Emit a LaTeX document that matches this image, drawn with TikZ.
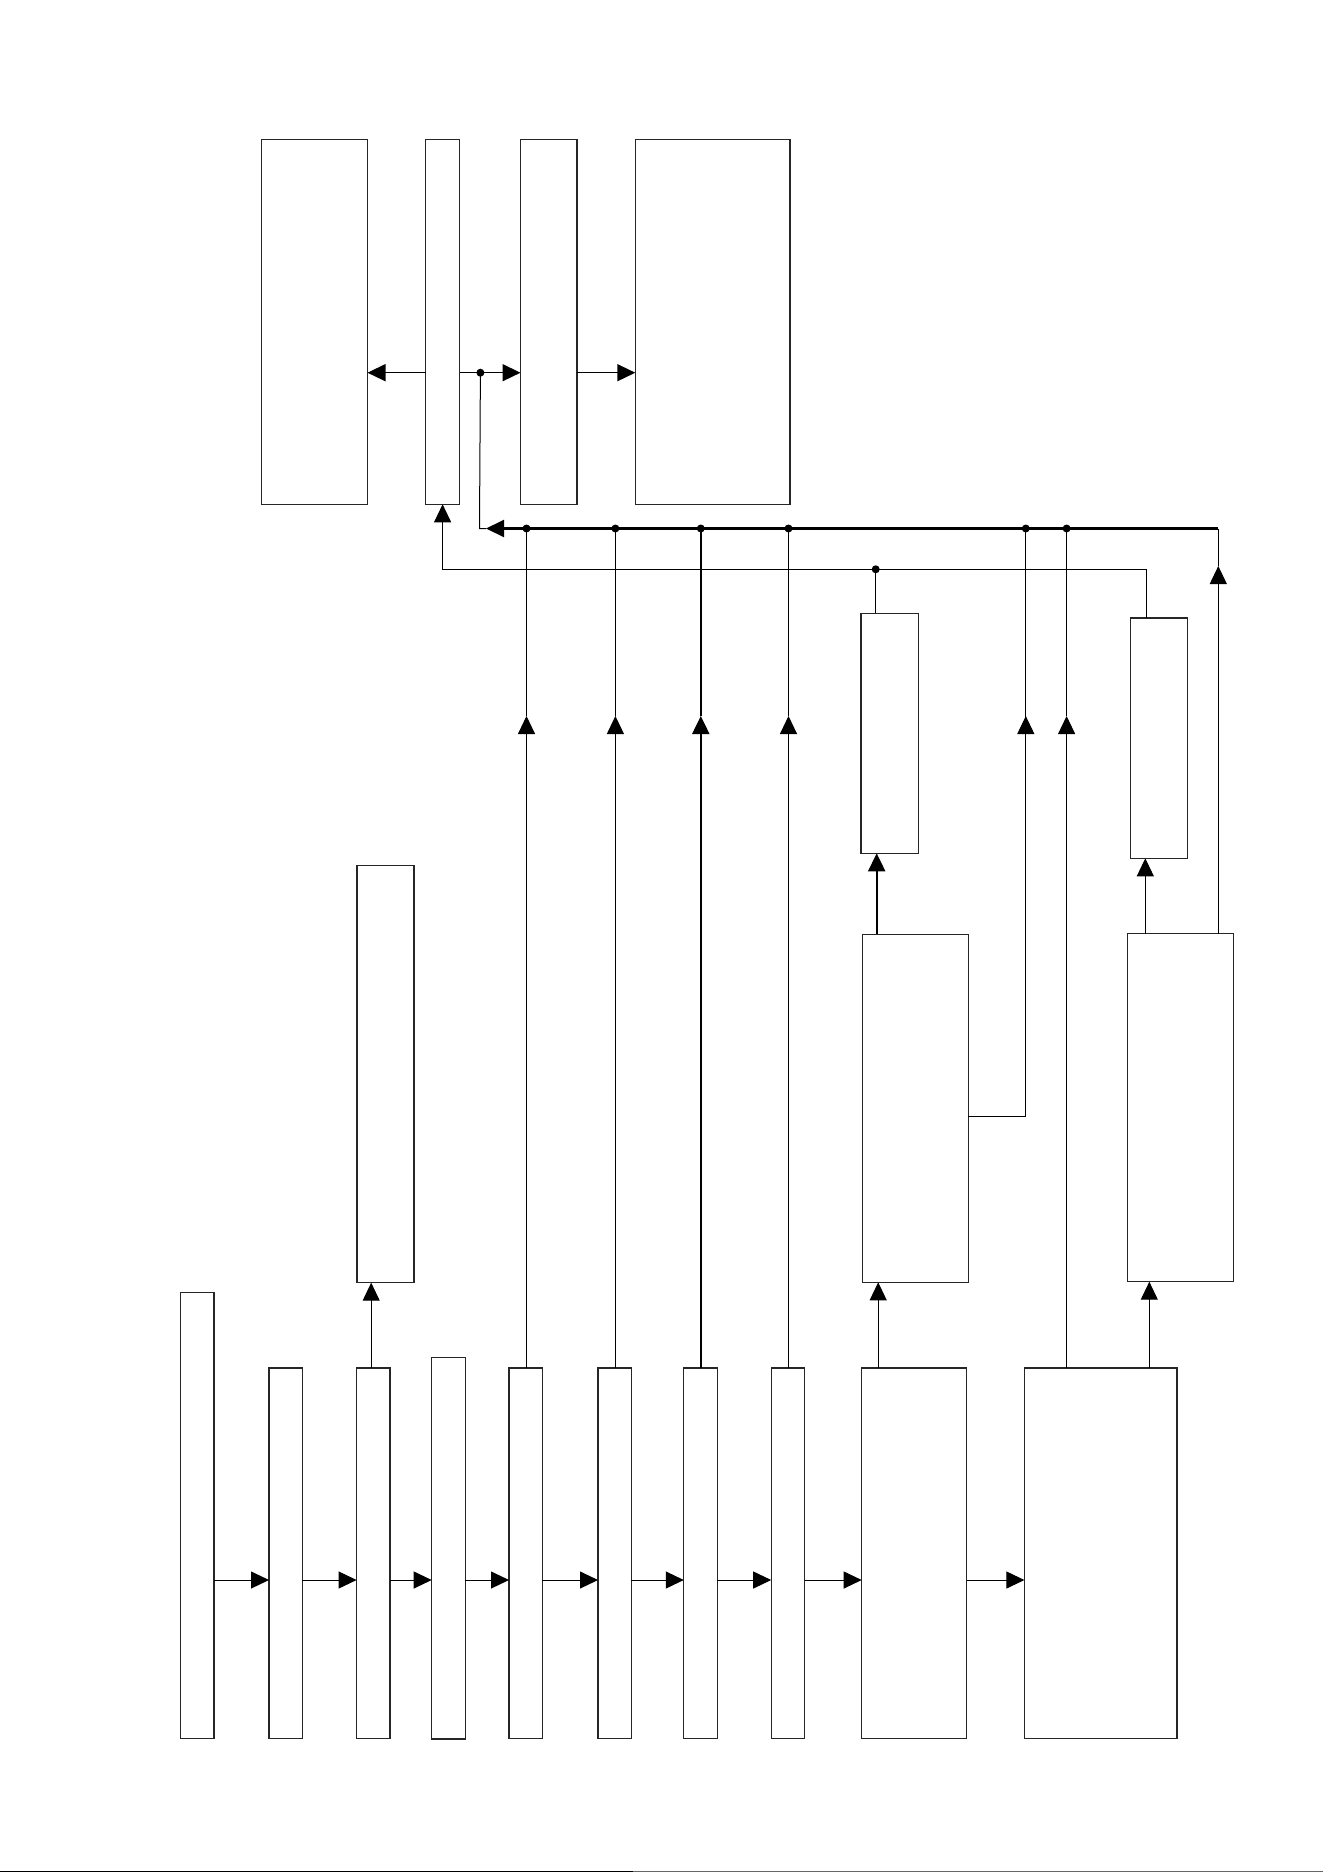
\documentclass[tikz,border=0pt]{standalone}
\usetikzlibrary{arrows.meta}
\begin{document}
\begin{tikzpicture}[x=1pt,y=-1pt,
  box/.style={draw=black!85,line width=1.1pt,inner sep=0pt,outer sep=0pt,anchor=north west,fill=white},
  conn/.style={line width=1pt},
  arr/.style={conn,-{Triangle[length=18pt,width=17pt]}},
  busline/.style={line width=2.1pt},
  heavy/.style={line width=2pt},
  dotm/.style={fill=black}]
\useasboundingbox (0,0) rectangle (1323,1872);
% boxes: name, x1, y1, x2, y2
\newcommand{\mkbox}[5]{\node[box,minimum width=#4-#2,minimum height=#5-#3] (#1) at (#2,#3) {};}
\mkbox{A}{261.4}{139.5}{367.5}{504.3}
\mkbox{B}{425.7}{139.5}{459.5}{504.3}
\mkbox{C}{520.5}{139.5}{577}{504.3}
\mkbox{D}{635.3}{139.5}{790}{504.3}
\mkbox{K}{357}{865.6}{414}{1282.7}
\mkbox{E}{861}{613.3}{918.3}{853.3}
\mkbox{F}{1130.3}{618}{1187.7}{858.3}
\mkbox{G}{862.3}{934.3}{968.3}{1282.3}
\mkbox{H}{1127.3}{933.7}{1233.3}{1281.7}
\mkbox{b1}{180.5}{1292.3}{214}{1738.3}
\mkbox{b2}{269}{1368}{302.3}{1738.3}
\mkbox{b3}{356.6}{1368}{390}{1738.3}
\mkbox{b4}{431.7}{1357.3}{465.3}{1739}
\mkbox{b5}{509}{1368}{542.2}{1738.3}
\mkbox{b6}{598}{1368}{631.4}{1738.3}
\mkbox{b7}{683.8}{1368}{717.1}{1738.3}
\mkbox{b8}{771.2}{1368}{804.5}{1738.3}
\mkbox{I}{861.7}{1368}{966.6}{1738.3}
\mkbox{J}{1024.4}{1368}{1177}{1738.3}
% reference rows
\coordinate (row) at (0,1580);
\coordinate (toprow) at (0,372.7);
\coordinate (bus) at (0,528.5);
\coordinate (lbus) at (0,569.3);
\coordinate (mid) at (0,716);
% bottom chain
\draw[arr] (b1.east |- row) -- (b2.west |- row);
\draw[arr] (b2.east |- row) -- (b3.west |- row);
\draw[arr] (b3.east |- row) -- (b4.west |- row);
\draw[arr] (b4.east |- row) -- (b5.west |- row);
\draw[arr] (b5.east |- row) -- (b6.west |- row);
\draw[arr] (b6.east |- row) -- (b7.west |- row);
\draw[arr] (b7.east |- row) -- (b8.west |- row);
\draw[arr] (b8.east |- row) -- (I.west |- row);
\draw[arr] (I.east |- row) -- (J.west |- row);
% top row
\draw[arr,line width=1.5pt] (B.west |- toprow) -- (A.east |- toprow);
\coordinate (dtop) at (480.4,372.7);
\draw[arr,line width=1.5pt] (B.east |- toprow) -- (C.west |- toprow);
\draw[arr,line width=1.5pt] (C.east |- toprow) -- (D.west |- toprow);
\fill[dotm] (dtop) circle (4);
% main bus
\coordinate (busL) at (479.5,528.5);
\coordinate (busA) at (486,528.5);
\coordinate (busR) at (1218.3,528.5);
\draw[busline,-{Triangle[length=18pt,width=17pt]}] (busR) -- (busA);
\draw[conn] (busA) -- (busL) -- (dtop);
% b3 -> K
\coordinate (x3) at (371.2,0);
\draw[arr] (b3.north -| x3) -- (K.south -| x3);
% verticals with mid arrows into bus
\coordinate (x5) at (526.5,0);
\coordinate (x6) at (615.4,0);
\coordinate (x7) at (700.8,0);
\coordinate (x8) at (788.5,0);
\coordinate (xg) at (1025.8,0);
\coordinate (xj) at (1066.6,0);
\draw[arr] (b5.north -| x5) -- (mid -| x5); \draw[conn] (mid -| x5) -- (bus -| x5);
\draw[arr] (b6.north -| x6) -- (mid -| x6); \draw[conn] (mid -| x6) -- (bus -| x6);
\draw[heavy,-{Triangle[length=18pt,width=17pt]}] (b7.north -| x7) -- (mid -| x7); \draw[heavy] (mid -| x7) -- (bus -| x7);
\draw[arr] (b8.north -| x8) -- (mid -| x8); \draw[conn] (mid -| x8) -- (bus -| x8);
\coordinate (gout) at (0,1116);
\draw[conn] (G.east |- gout) -- (xg |- gout) -- (mid -| xg);
\draw[arr] (xg |- gout) -- (mid -| xg); \draw[conn] (mid -| xg) -- (bus -| xg);
\draw[arr] (J.north -| xj) -- (mid -| xj); \draw[conn] (mid -| xj) -- (bus -| xj);
% H top right up to bus
\coordinate (xh) at (1218.3,0);
\coordinate (harr) at (0,566);
\draw[arr] (H.north -| xh) -- (harr -| xh); \draw[conn] (harr -| xh) -- (busR);
% bus dots
\foreach \c in {x5,x6,x7,x8,xg,xj} \fill[dotm] (bus -| \c) circle (4);
% lower connections
\coordinate (xi) at (878.2,0);
\coordinate (xe) at (876.7,0);
\draw[arr] (I.north -| xi) -- (G.south -| xi);
\draw[heavy,-{Triangle[length=18pt,width=17pt]}] (G.north -| xe) -- (E.south -| xe);
\coordinate (xjh) at (1149.3,0);
\coordinate (xhf) at (1145.3,0);
\draw[arr] (J.north -| xjh) -- (H.south -| xjh);
\draw[arr] (H.north -| xhf) -- (F.south -| xhf);
% lower bus
\coordinate (xf) at (1146.3,0);
\coordinate (xet) at (875.7,0);
\draw[conn,line width=1.2pt,-{Triangle[length=18pt,width=17pt]}] (F.north -| xf) -- (lbus -| xf) -- (lbus -| B.south) -- (B.south);
\draw[conn] (E.north -| xet) -- (lbus -| xet);
\fill[dotm] (lbus -| xet) circle (4);
% bottom edge line
\draw[line width=1pt] (0,1871) -- (633,1871);
\draw[line width=1pt,black!60] (633,1871) -- (1323,1871);
\end{tikzpicture}
\end{document}
